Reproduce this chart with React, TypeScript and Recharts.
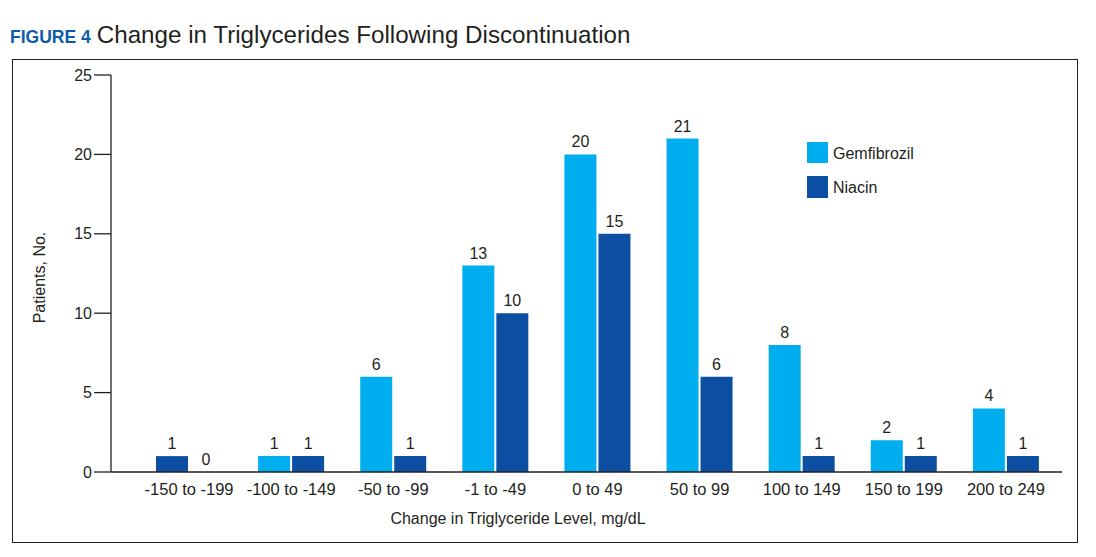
import React from 'react';
import { BarChart, Bar, XAxis, YAxis, LabelList, Cell } from 'recharts';

const categories = ['-150 to -199', '-100 to -149', '-50 to -99', '-1 to -49', '0 to 49', '50 to 99', '100 to 149', '150 to 199', '200 to 249'];
const gemfibrozil = [1, 1, 6, 13, 20, 21, 8, 2, 4];
const niacin = [0, 1, 1, 10, 15, 6, 1, 1, 1];
const yTicks = [0, 5, 10, 15, 20, 25];

const GEM = '#00AEEF';
const NIA = '#0C4EA2';
const INK = '#231F20';
const FONT = "'Liberation Sans', Arial, Helvetica, sans-serif";

const data = categories.map((c, i) => ({ category: c, gem: gemfibrozil[i], nia: niacin[i] }));

const ValueLabel = (props: any) => {
  const { x, y, width, height, value } = props;
  if (value === undefined || value === null) return null;
  const top = Math.min(Number(y), Number(y) + Number(height || 0));
  return (
    <text x={Number(x) + Number(width) / 2} y={top - 7} textAnchor="middle" fontSize={16} fill={INK} fontFamily={FONT}>
      {value}
    </text>
  );
};

const zeroMin = (value: any) => (Number(value) === 0 ? 0.5 : 0);

export default function App() {
  return (
    <div style={{ position: 'absolute', left: 0, top: 0, width: 1096, height: 557, background: '#fff', fontFamily: FONT }}>
      <div style={{ position: 'absolute', left: 10, top: 23, whiteSpace: 'nowrap', lineHeight: 1 }}>
        <span style={{ fontWeight: 'bold', fontSize: 17.5, color: '#0D5BAA' }}>FIGURE 4</span>
        <span style={{ fontSize: 24.2, color: INK, marginLeft: 6 }}>Change in Triglycerides Following Discontinuation</span>
      </div>
      <div style={{ position: 'absolute', left: 12, top: 59, width: 1066, height: 484, border: `1.3px solid ${INK}`, boxSizing: 'border-box' }} />
      <div style={{ position: 'absolute', left: 0, top: 0 }}>
        <BarChart width={1096} height={557} data={data} margin={{ top: 75, right: 34, bottom: 29, left: 0 }} barSize={32} barGap={2}>
          <XAxis
            dataKey="category"
            padding={{ left: 27, right: 5 }}
            tickLine={false}
            tickSize={0}
            tickMargin={11}
            height={56}
            axisLine={{ stroke: INK, strokeWidth: 1.3 }}
            tick={{ fill: INK, fontSize: 16.5, fontFamily: FONT }}
            interval={0}
          />
          <YAxis
            domain={[0, 25]}
            ticks={yTicks}
            width={111}
            tickSize={17}
            tickMargin={2}
            axisLine={{ stroke: INK, strokeWidth: 1.3 }}
            tickLine={{ stroke: INK, strokeWidth: 1.3 }}
            tick={{ fill: INK, fontSize: 16, fontFamily: FONT }}
          />
          <Bar dataKey="gem" name="Gemfibrozil" fill={GEM} isAnimationActive={false}>
            {data.map((d, i) => (
              <Cell key={i} fill={i === 0 ? NIA : GEM} />
            ))}
            <LabelList dataKey="gem" content={ValueLabel} />
          </Bar>
          <Bar dataKey="nia" name="Niacin" fill={NIA} minPointSize={zeroMin} isAnimationActive={false}>
            {data.map((d, i) => (
              <Cell key={i} fill={d.nia === 0 ? 'transparent' : NIA} />
            ))}
            <LabelList dataKey="nia" content={ValueLabel} />
          </Bar>
        </BarChart>
      </div>
      <svg style={{ position: 'absolute', left: 0, top: 0 }} width={1096} height={557}>
        <text x={45} y={277.5} transform="rotate(-90 45 277.5)" textAnchor="middle" fontSize={16} fill={INK} fontFamily={FONT}>Patients, No.</text>
        <text x={518} y={524} textAnchor="middle" fontSize={16} fill={INK} fontFamily={FONT}>Change in Triglyceride Level, mg/dL</text>
        <rect x={807} y={142} width={21} height={21} fill={GEM} />
        <text x={833} y={158.5} fontSize={16} fill={INK} fontFamily={FONT}>Gemfibrozil</text>
        <rect x={807} y={176} width={21} height={22} fill={NIA} />
        <text x={833} y={193} fontSize={16} fill={INK} fontFamily={FONT}>Niacin</text>
      </svg>
    </div>
  );
}
